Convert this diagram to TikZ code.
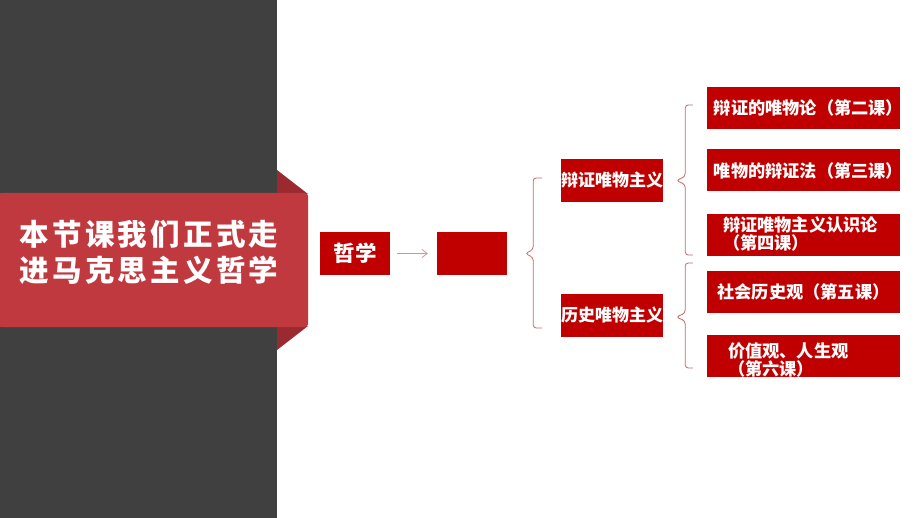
\documentclass[tikz,border=0pt]{standalone}
\usepackage{fontspec}
\newfontfamily\cjk{Noto Sans CJK SC}
\newfontfamily\cjkwide{Noto Sans CJK SC}[LetterSpace=11]
\definecolor{panelgrey}{HTML}{404040}
\definecolor{bannerred}{HTML}{C0393F}
\definecolor{folddark}{HTML}{9B2A30}
\definecolor{boxred}{HTML}{C00000}
\definecolor{braceline}{HTML}{C46A6A}
\definecolor{arrowline}{HTML}{D49494}
\newcommand{\lessonfit}[1]{\makebox[193pt][c]{#1}}
\tikzset{
  redbox/.style={fill=boxred, draw=none, text=white, inner sep=0pt, font=\cjk\bfseries},
  topicbox/.style={redbox, minimum width=100, minimum height=43, font=\cjk\bfseries\fontsize{17}{20}\selectfont},
  lessonbox/.style={redbox, minimum width=193, minimum height=42, font=\cjk\bfseries\fontsize{17.2}{19}\selectfont},
  lessontext/.style={anchor=west, align=left, text=white, inner sep=0pt, font=\cjk\bfseries\fontsize{17.2}{18}\selectfont},
  bracepath/.style={draw=braceline, line width=0.8pt, rounded corners=3},
  thinarrow/.style={draw=arrowline, line width=0.8pt, -{Straight Barb[length=5pt,width=8pt]}}
}
\usetikzlibrary{arrows.meta,calc}
\begin{document}
\begin{tikzpicture}[x=1pt,y=-1pt]
\useasboundingbox (0,0) rectangle (920,518);
\fill[white] (0,0) rectangle (920,518);
% dark left panel
\fill[panelgrey] (0,0) rectangle (277,518);
% ribbon folds
\fill[folddark] (277,170) -- (308,194) -- (277,194) -- cycle;
\fill[folddark] (277,350) -- (308,326) -- (277,326) -- cycle;
% banner
\fill[bannerred, rounded corners=3] (0,193) -- (308,193) -- (308,327) -- (0,327) -- cycle;
\fill[bannerred] (0,193) rectangle (20,327);
\node[text=white, align=center, inner sep=0pt, font=\cjkwide\bfseries\fontsize{29.5}{36}\selectfont] (title) at (149,252) {本节课我们正式走\\进马克思主义哲学};

% main chain
\node[redbox, minimum width=70, minimum height=43, font=\cjk\bfseries\fontsize{21.5}{24}\selectfont] (phil) at (355,253.5) {哲学};
\node[redbox, minimum width=70, minimum height=43] (empty) at (472,253.5) {};
\draw[thinarrow] ([xshift=7]phil.east) -- ([xshift=-9]empty.west);

% second level
\node[topicbox] (bz) at (612,180.5) {辩证唯物主义};
\node[topicbox] (ls) at (612,315.5) {历史唯物主义};

% third level
\node[lessonbox] (r1) at (803.5,108) {\lessonfit{\hspace{10pt}辩证的唯物论（第二课）}};
\node[lessonbox] (r2) at (803.5,170.5) {\lessonfit{\hspace{10pt}唯物的辩证法（第三课）}};
\node[lessonbox] (r3) at (803.5,235) {};
\node[lessontext] (r3t) at ($(r3.west)+(16,-1)$) {辩证唯物主义认识论\\（第四课）};
\node[lessonbox] (r4) at (803.5,292) {\lessonfit{社会历史观（第五课）}};
\node[lessonbox] (r5) at (803.5,356) {};
\node[lessontext] (r5t) at ($(r5.west)+(21,4)$) {价值观、人生观\\（第六课）};

% braces
\coordinate (b1tip) at ($(empty.east)+(18,0)$);
\draw[bracepath] ($(bz.west)+(-19,-2.5)$) -| ($(b1tip)+(8,-4)$) -- (b1tip) -- ($(b1tip)+(8,4)$) |- ($(ls.west)+(-19,12.5)$);

\coordinate (b2tip) at ($(bz.east)+(13,0)$);
\draw[bracepath] ($(r1.west)+(-14,-3)$) -| ($(b2tip)+(9,-4)$) -- (b2tip) -- ($(b2tip)+(9,4)$) |- ($(r3.west)+(-14,20)$);

\coordinate (b3tip) at ($(ls.east)+(13,1.5)$);
\draw[bracepath] ($(r4.west)+(-14,-29)$) -| ($(b3tip)+(9,-4)$) -- (b3tip) -- ($(b3tip)+(9,4)$) |- ($(r5.west)+(-14,12)$);
\end{tikzpicture}
\end{document}
